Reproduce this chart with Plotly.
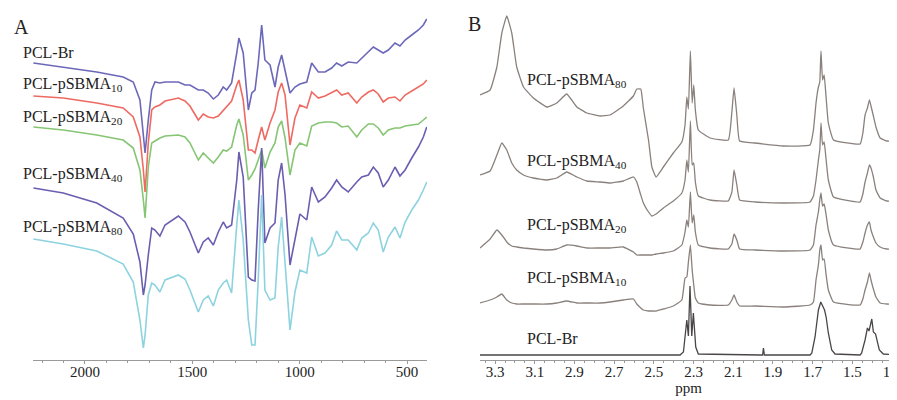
import plotly.graph_objects as go

# ---------------- Panel A : FT-IR (wavenumber, cm-1) ----------------
ir_wavenumber = [2240, 2101, 1945, 1822, 1775, 1744, 1728, 1720, 1705, 1689, 1674, 1651, 1627,
                 1565, 1534, 1511, 1472, 1449, 1426, 1402, 1379, 1356, 1340, 1317, 1293, 1283,
                 1263, 1239, 1223, 1208, 1193, 1177, 1162, 1138, 1115, 1100, 1084, 1068, 1045,
                 1022, 999, 967, 944, 913, 882, 851, 828, 804, 774, 734, 711, 680, 657, 634,
                 611, 587, 556, 533, 509, 478, 447, 424, 408]

ir_pcl_br = [297, 293, 288, 283, 278, 260, 227, 207, 240, 270, 278, 277, 278, 278, 275, 275, 270,
             270, 267, 261, 265, 273, 270, 277, 307, 322, 307, 250, 267, 270, 297, 335, 300, 295,
             273, 293, 305, 290, 267, 273, 276, 278, 297, 288, 288, 292, 297, 294, 298, 297, 302,
             308, 313, 310, 307, 310, 317, 314, 320, 325, 330, 335, 341]
ir_psbma10 = [264, 262, 257, 252, 243, 223, 190, 168, 217, 250, 253, 255, 259, 262, 259, 254, 240,
              246, 243, 242, 244, 250, 253, 259, 275, 280, 260, 210, 210, 207, 220, 233, 220, 237,
              250, 268, 277, 265, 215, 242, 255, 252, 268, 262, 264, 267, 270, 265, 267, 257, 263,
              268, 270, 266, 258, 262, 263, 259, 265, 269, 273, 276, 280]
ir_psbma20 = [233, 230, 225, 220, 212, 190, 160, 142, 193, 217, 219, 222, 224, 225, 223, 217, 200,
              207, 202, 197, 203, 210, 209, 213, 235, 241, 225, 180, 185, 191, 200, 210, 192, 208,
              217, 233, 239, 222, 185, 210, 217, 214, 234, 237, 238, 238, 237, 233, 234, 223, 230,
              236, 236, 232, 225, 230, 232, 232, 234, 235, 236, 240, 243]
ir_psbma40 = [172, 167, 157, 142, 126, 98, 65, 75, 105, 132, 130, 124, 135, 144, 138, 128, 107,
              118, 122, 115, 128, 138, 132, 135, 180, 208, 183, 83, 80, 79, 150, 212, 117, 132,
              137, 180, 197, 165, 95, 122, 146, 140, 173, 158, 163, 172, 180, 173, 168, 178, 183,
              185, 193, 187, 173, 180, 193, 184, 190, 202, 213, 223, 233]
ir_psbma80 = [121, 116, 109, 96, 78, 40, 12, 25, 65, 77, 75, 68, 80, 85, 81, 70, 48, 60, 64, 54,
              70, 77, 80, 67, 135, 160, 120, 40, 15, 15, 80, 165, 70, 60, 62, 113, 143, 100, 30,
              68, 90, 87, 123, 104, 107, 115, 129, 120, 120, 110, 122, 127, 137, 130, 108, 123,
              133, 122, 138, 150, 160, 170, 178]

ir_names = ["PCL-Br", "PCL-pSBMA<sub>10</sub>", "PCL-pSBMA<sub>20</sub>",
            "PCL-pSBMA<sub>40</sub>", "PCL-pSBMA<sub>80</sub>"]
ir_series = [ir_pcl_br, ir_psbma10, ir_psbma20, ir_psbma40, ir_psbma80]
ir_colors = ["#6c68b9", "#ee6a62", "#86c574", "#6a5eb0", "#8dd3df"]

# ---------------- Panel B : 1H NMR (ppm) ----------------
nmr_ppm = [3.376, 3.325, 3.291, 3.266, 3.241, 3.216, 3.191, 3.157, 3.107, 3.039, 2.989, 2.939,
           2.888, 2.838, 2.771, 2.721, 2.654, 2.603, 2.586, 2.566, 2.553, 2.527, 2.510, 2.489,
           2.452, 2.402, 2.359, 2.343, 2.334, 2.326, 2.316, 2.307, 2.299, 2.291, 2.276, 2.217,
           2.125, 2.107, 2.096, 2.082, 2.068, 1.990, 1.847, 1.713, 1.696, 1.683, 1.671, 1.664,
           1.658, 1.650, 1.642, 1.632, 1.621, 1.595, 1.461, 1.447, 1.436, 1.424, 1.414, 1.406,
           1.394, 1.381, 1.360, 1.327, 1.275]

nmr_psbma80 = [265, 270, 293, 327, 344, 327, 293, 273, 262, 253, 257, 266, 253, 247, 244, 245,
               254, 264, 271, 271, 252, 220, 193, 183, 193, 207, 218, 235, 263, 251, 309, 257,
               275, 250, 230, 222, 220, 248, 272, 245, 219, 217, 214, 215, 230, 257, 273, 278,
               309, 280, 285, 262, 237, 220, 216, 227, 245, 252, 260, 254, 244, 233, 222, 219, 219]
nmr_psbma40 = [185, 189, 205, 217, 210, 197, 190, 185, 182, 180, 182, 188, 183, 179, 178, 177,
               179, 183, 178, 165, 157, 148, 144, 146, 152, 159, 167, 180, 200, 188, 239, 195,
               197, 178, 164, 160, 159, 168, 190, 175, 160, 158, 157, 158, 164, 180, 200, 210,
               237, 215, 218, 200, 180, 163, 158, 166, 178, 187, 195, 192, 183, 170, 162, 159, 159]
nmr_psbma20 = [112, 121, 130, 125, 118, 114, 113, 112, 111, 110, 111, 115, 114, 112, 112, 112,
               113, 108, 105, 105, 105, 105, 105, 106, 107, 109, 115, 128, 140, 133, 168, 137,
               145, 128, 115, 112, 111, 116, 126, 120, 111, 110, 109, 110, 115, 135, 148, 160,
               167, 154, 156, 145, 130, 115, 111, 118, 127, 135, 138, 130, 123, 117, 113, 111, 111]
nmr_psbma10 = [57, 60, 63, 66, 60, 57, 56, 56, 56, 56, 57, 59, 57, 57, 57, 58, 60, 61, 56, 52,
               50, 49, 49, 49, 51, 54, 60, 82, 83, 98, 115, 90, 75, 62, 57, 55, 55, 60, 65, 58,
               54, 54, 53, 55, 58, 80, 95, 110, 115, 100, 101, 85, 70, 58, 55, 61, 70, 78, 87,
               80, 71, 63, 57, 56, 56]

nmr_br_ppm = [3.376, 2.368, 2.351, 2.340, 2.334, 2.326, 2.318, 2.309, 2.301, 2.289, 2.276, 1.965,
              1.952, 1.948, 1.943, 1.713, 1.704, 1.688, 1.679, 1.671, 1.659, 1.649, 1.640, 1.632,
              1.621, 1.604, 1.587, 1.461, 1.453, 1.436, 1.424, 1.416, 1.402, 1.394, 1.383, 1.364,
              1.344, 1.275]
nmr_pcl_br = [5, 5, 8, 25, 40, 24, 74, 24, 47, 13, 6, 5, 5, 12, 5, 5, 7, 23, 40, 50, 58, 53, 50,
              43, 27, 10, 6, 5, 7, 20, 32, 29, 41, 28, 26, 10, 6, 5]

nmr_names = ["PCL-pSBMA<sub>80</sub>", "PCL-pSBMA<sub>40</sub>", "PCL-pSBMA<sub>20</sub>",
             "PCL-pSBMA<sub>10</sub>", "PCL-Br"]

# page body adds an 8 px margin: the figure is drawn 8 px smaller and positions shifted
OFF = 8
W, H = 897 - OFF, 400 - OFF
SERIF = "Liberation Serif, Times New Roman, serif"


def px(x):
    return (x - OFF) / W


def py(y):
    return 1 - (y - OFF) / H


fig = go.Figure()

for name, ys, col in zip(ir_names, ir_series, ir_colors):
    fig.add_trace(go.Scatter(x=ir_wavenumber, y=ys, mode="lines", name=name,
                             line=dict(color=col, width=1.6), xaxis="x", yaxis="y"))

for name, ys in zip(nmr_names[:4], [nmr_psbma80, nmr_psbma40, nmr_psbma20, nmr_psbma10]):
    fig.add_trace(go.Scatter(x=nmr_ppm, y=ys, mode="lines", name=name,
                             line=dict(color="#8a817c", width=1.3, shape="spline", smoothing=0.35),
                             xaxis="x2", yaxis="y2"))
fig.add_trace(go.Scatter(x=nmr_br_ppm, y=nmr_pcl_br, mode="lines", name="PCL-Br",
                         line=dict(color="#4a4646", width=1.3), xaxis="x2", yaxis="y2"))

axis_common = dict(showgrid=False, zeroline=False, showline=True, linecolor="#9a9a9a",
                   linewidth=1, ticks="outside", ticklen=3, tickcolor="#9a9a9a",
                   ticklabelstandoff=-5, ticklabeloverflow="allow",
                   tickfont=dict(family=SERIF, size=15, color="#222222"))

ydom = [1 - (360 - OFF) / H, 1]
yrange = [0, 360 - OFF]

fig.update_layout(
    width=W, height=H, margin=dict(l=0, r=0, t=0, b=0, autoexpand=False),
    paper_bgcolor="white", plot_bgcolor="white", showlegend=False,
    xaxis=dict(domain=[px(33), px(427)], range=[2242, 407], anchor="y",
               tick0=0, dtick=500,
               minor=dict(dtick=100, ticks="outside", ticklen=2, tickcolor="#9a9a9a"),
               **axis_common),
    yaxis=dict(domain=ydom, range=yrange, visible=False, anchor="x"),
    xaxis2=dict(domain=[px(480), 1], range=[3.376, 1.275], anchor="y2",
                tick0=3.3, dtick=0.2, tickformat=".1f",
                minor=dict(dtick=0.05, ticks="outside", ticklen=2, tickcolor="#9a9a9a"),
                title=dict(text="ppm", font=dict(family=SERIF, size=15, color="#222222"),
                           standoff=0),
                **axis_common),
    yaxis2=dict(domain=ydom, range=yrange, visible=False, anchor="x2"),
)

lab_font = dict(family=SERIF, size=16, color="#222222")
ir_label_y = [53, 84, 117, 174, 227]
for name, yy in zip(ir_names, ir_label_y):
    fig.add_annotation(text=name, x=px(21), y=py(yy), xref="paper", yref="paper",
                       xanchor="left", yanchor="middle", showarrow=False, font=lab_font)

nmr_label_y = [80, 161, 225, 278, 338]
for name, yy in zip(nmr_names, nmr_label_y):
    fig.add_annotation(text=name, x=px(525), y=py(yy), xref="paper", yref="paper",
                       xanchor="left", yanchor="middle", showarrow=False, font=lab_font)

fig.add_annotation(text="A", x=px(12), y=py(27), xref="paper", yref="paper",
                   xanchor="left", yanchor="middle", showarrow=False,
                   font=dict(family=SERIF, size=20, color="#222222"))
fig.add_annotation(text="B", x=px(466), y=py(24), xref="paper", yref="paper",
                   xanchor="left", yanchor="middle", showarrow=False,
                   font=dict(family=SERIF, size=20, color="#222222"))

fig.write_html("out.html")
